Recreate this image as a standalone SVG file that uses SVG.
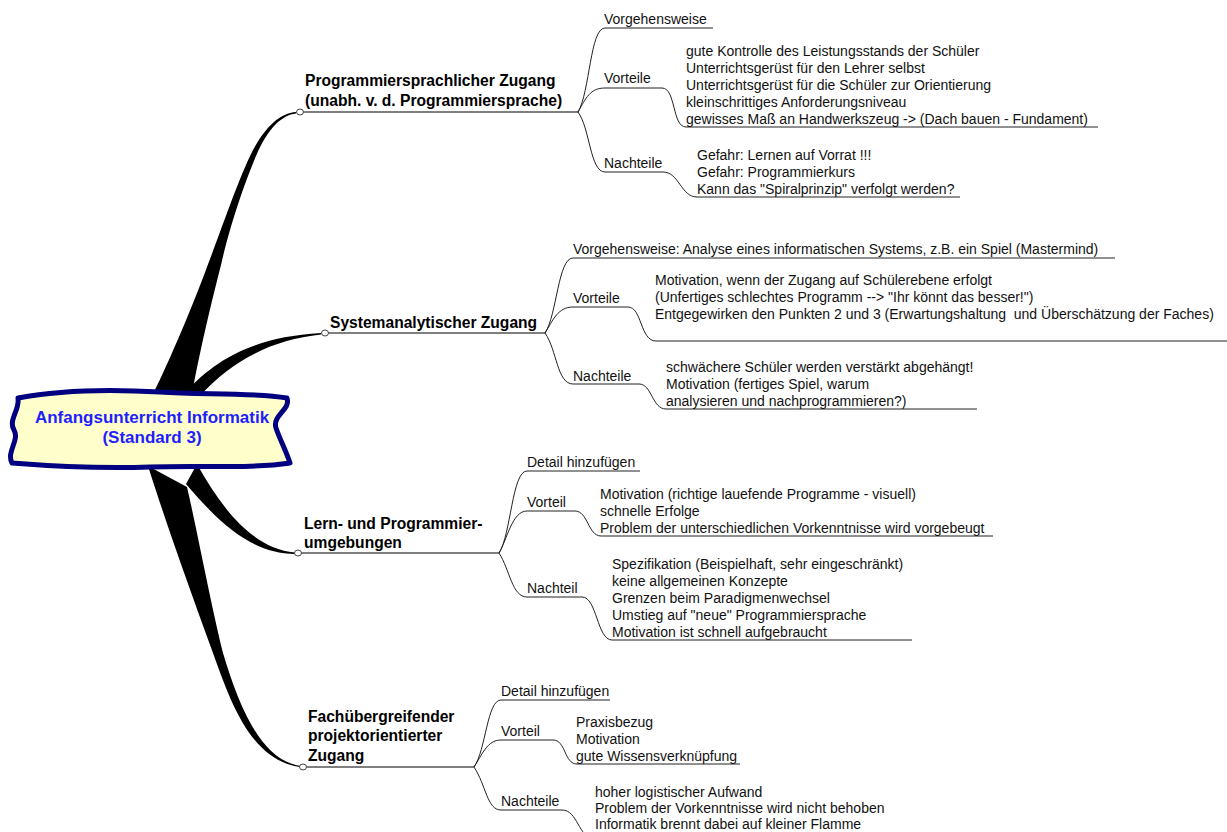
<svg xmlns="http://www.w3.org/2000/svg" width="1227" height="832" viewBox="0 0 1227 832">
<style>
.t{font-family:"Liberation Sans",Arial,sans-serif;font-size:14px;fill:#111}
.b{font-weight:bold;font-size:15.6px;fill:#000}
.c{font-family:"Liberation Sans",Arial,sans-serif;font-size:17px;font-weight:bold;fill:#1e1eff;text-anchor:middle}
.ln{fill:none;stroke:#222;stroke-width:1}
.mn{fill:none;stroke:#000;stroke-width:1.2}
.tk{fill:#000}
.dot{fill:#fff;stroke:#444;stroke-width:1}
</style>
<rect width="1227" height="832" fill="#fff"/>
<g id="connectors">
  <!-- thick tapered branches from the central topic -->
  <path class="tk" d="M153,394 C170,360 195,300 207,267 C222,228 238,180 252,152 C265,127 280,113 296,112 L296,113.5 C282,115 268,128 256,156 C245,182 230,225 221,265 C212,300 200,350 192,394 Z"/>
  <path class="tk" d="M182,396 C212,362 250,337 321,333 L321,334.6 C272,340 232,360 200,396 Z"/>
  <path class="tk" d="M197,464 C220,505 250,548 295,552.5 L295,554 C255,553 225,530 186,484 Z"/>
  <path class="tk" d="M148,466 C165,520 190,590 213,653 C230,700 250,760 300,767 L300,765.8 C262,760 240,710 223,653 C210,600 197,530 187,487 Z"/>
  <!-- main topic lines -->
  <path class="mn" d="M300,112 H578"/>
  <path class="mn" d="M325,333 H545"/>
  <path class="mn" d="M298,553 H499"/>
  <path class="mn" d="M303,767 H474"/>
  <!-- branch 1 subtopics -->
  <path class="ln" d="M578,112 C590,92 590,28 605,28 L713,28"/>
  <path class="ln" d="M578,112 C586,98 590,88 605,88 L662,88 C676,88 672,127 686,127 L1098,127"/>
  <path class="ln" d="M578,112 C590,128 590,172 605,172 L663,172 C679,172 681,197 697,197 L960,197"/>
  <!-- branch 2 subtopics -->
  <path class="ln" d="M545,333 C557,315 558,258 573,258 L1115,258"/>
  <path class="ln" d="M545,333 C553,320 558,307 573,307 L628,307 C642,307 640,341 656,341 L1227,341"/>
  <path class="ln" d="M545,333 C557,350 557,384 573,384 L639,384 C652,384 652,409 666,409 L977,409"/>
  <!-- branch 3 subtopics -->
  <path class="ln" d="M499,553 C511,535 512,471 527,471 L640,471"/>
  <path class="ln" d="M499,553 C507,540 512,511 527,511 L575,511 C588,511 588,536 601,536 L993,536"/>
  <path class="ln" d="M499,553 C510,570 512,597 527,597 L582,597 C597,597 597,640 612,640 L912,640"/>
  <!-- branch 4 subtopics -->
  <path class="ln" d="M474,767 C486,750 487,700 501,700 L610,700"/>
  <path class="ln" d="M474,767 C482,755 487,740 501,740 L553,740 C566,740 564,764 577,764 L740,764"/>
  <path class="ln" d="M474,767 C486,785 487,810 501,810 L562,810 C578,810 578,838 594,838 L900,838"/>
  <!-- attachment dots -->
  <ellipse class="dot" cx="300" cy="112" rx="3.5" ry="3"/>
  <ellipse class="dot" cx="325" cy="333" rx="3.5" ry="3"/>
  <ellipse class="dot" cx="298" cy="553" rx="3.5" ry="3"/>
  <ellipse class="dot" cx="303" cy="767" rx="3.5" ry="3"/>
</g>
<g id="central">
  <path d="M18,398 C60,390 110,389 160,392 C200,395 250,392 287,398 C291,410 272,415 276,428 C280,440 285,448 290,463 C250,469 200,465 150,467 C100,469 50,466 12,463 C6,452 20,440 14,430 C8,420 20,410 18,398 Z" fill="#ffffcc" stroke="#000080" stroke-width="5" stroke-linejoin="round"/>
  <text class="c" x="152" y="423">Anfangsunterricht Informatik</text>
  <text class="c" x="152" y="443">(Standard 3)</text>
</g>
<g id="topic1">
  <text class="t b" x="305" y="86">Programmiersprachlicher Zugang</text>
  <text class="t b" x="305" y="106">(unabh. v. d. Programmiersprache)</text>
</g>
<g id="t1-vorgehen"><text class="t" x="604" y="24">Vorgehensweise</text></g>
<g id="t1-vorteile">
  <text class="t" x="604" y="83">Vorteile</text>
  <text class="t" x="686" y="56">gute Kontrolle des Leistungsstands der Schüler</text>
  <text class="t" x="686" y="73">Unterrichtsgerüst für den Lehrer selbst</text>
  <text class="t" x="686" y="90">Unterrichtsgerüst für die Schüler zur Orientierung</text>
  <text class="t" x="686" y="107">kleinschrittiges Anforderungsniveau</text>
  <text class="t" x="686" y="124">gewisses Maß an Handwerkszeug -&gt; (Dach bauen - Fundament)</text>
</g>
<g id="t1-nachteile">
  <text class="t" x="604" y="168">Nachteile</text>
  <text class="t" x="697" y="160">Gefahr: Lernen auf Vorrat !!!</text>
  <text class="t" x="697" y="177">Gefahr: Programmierkurs</text>
  <text class="t" x="697" y="194">Kann das "Spiralprinzip" verfolgt werden?</text>
</g>
<g id="topic2">
  <text class="t b" x="330" y="328">Systemanalytischer Zugang</text>
</g>
<g id="t2-vorgehen"><text class="t" x="573" y="254">Vorgehensweise: Analyse eines informatischen Systems, z.B. ein Spiel (Mastermind)</text></g>
<g id="t2-vorteile">
  <text class="t" x="573" y="303">Vorteile</text>
  <text class="t" x="655" y="285">Motivation, wenn der Zugang auf Schülerebene erfolgt</text>
  <text class="t" x="655" y="302">(Unfertiges schlechtes Programm --&gt; "Ihr könnt das besser!")</text>
  <text class="t" x="655" y="319" xml:space="preserve">Entgegewirken den Punkten 2 und 3 (Erwartungshaltung  und Überschätzung der Faches)</text>
</g>
<g id="t2-nachteile">
  <text class="t" x="573" y="381">Nachteile</text>
  <text class="t" x="666" y="372">schwächere Schüler werden verstärkt abgehängt!</text>
  <text class="t" x="666" y="389">Motivation (fertiges Spiel, warum</text>
  <text class="t" x="666" y="406">analysieren und nachprogrammieren?)</text>
</g>
<g id="topic3">
  <text class="t b" x="304" y="529">Lern- und Programmier-</text>
  <text class="t b" x="304" y="548">umgebungen</text>
</g>
<g id="t3-detail"><text class="t" x="527" y="467">Detail hinzufügen</text></g>
<g id="t3-vorteil">
  <text class="t" x="527" y="507">Vorteil</text>
  <text class="t" x="600" y="499">Motivation (richtige lauefende Programme - visuell)</text>
  <text class="t" x="600" y="516">schnelle Erfolge</text>
  <text class="t" x="600" y="533">Problem der unterschiedlichen Vorkenntnisse wird vorgebeugt</text>
</g>
<g id="t3-nachteil">
  <text class="t" x="527" y="593">Nachteil</text>
  <text class="t" x="612" y="569">Spezifikation (Beispielhaft, sehr eingeschränkt)</text>
  <text class="t" x="612" y="586">keine allgemeinen Konzepte</text>
  <text class="t" x="612" y="603">Grenzen beim Paradigmenwechsel</text>
  <text class="t" x="612" y="620">Umstieg auf "neue" Programmiersprache</text>
  <text class="t" x="612" y="637">Motivation ist schnell aufgebraucht</text>
</g>
<g id="topic4">
  <text class="t b" x="308" y="722">Fachübergreifender</text>
  <text class="t b" x="308" y="741">projektorientierter</text>
  <text class="t b" x="308" y="761">Zugang</text>
</g>
<g id="t4-detail"><text class="t" x="501" y="696">Detail hinzufügen</text></g>
<g id="t4-vorteil">
  <text class="t" x="501" y="736">Vorteil</text>
  <text class="t" x="576" y="727">Praxisbezug</text>
  <text class="t" x="576" y="744">Motivation</text>
  <text class="t" x="576" y="761">gute Wissensverknüpfung</text>
</g>
<g id="t4-nachteile">
  <text class="t" x="501" y="806">Nachteile</text>
  <text class="t" x="595" y="797">hoher logistischer Aufwand</text>
  <text class="t" x="595" y="813">Problem der Vorkenntnisse wird nicht behoben</text>
  <text class="t" x="595" y="829">Informatik brennt dabei auf kleiner Flamme</text>
</g>
</svg>
